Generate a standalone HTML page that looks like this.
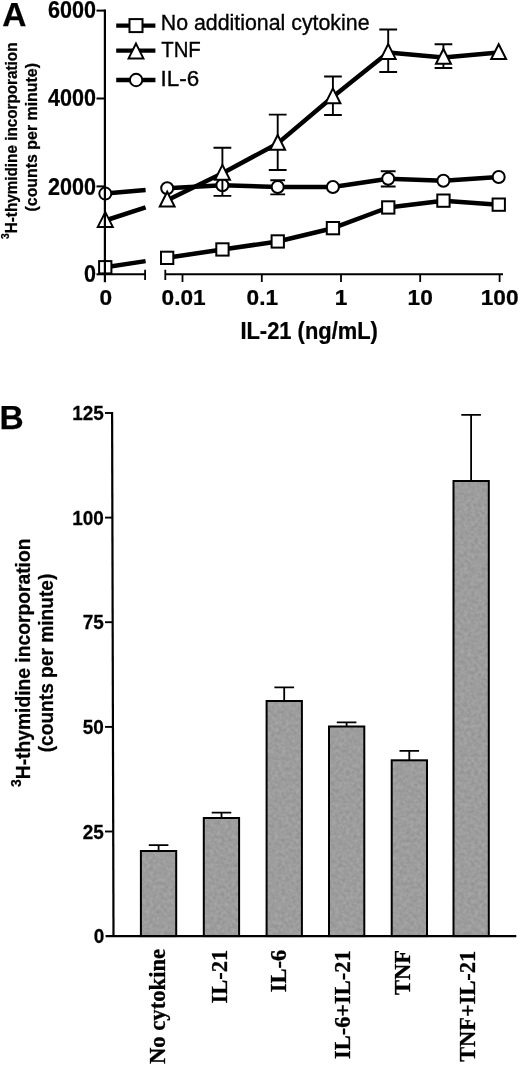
<!DOCTYPE html>
<html lang="en">
<head>
<meta charset="utf-8">
<title>Figure: IL-21 and thymidine incorporation</title>
<style>
html,body{margin:0;padding:0;background:#fff;}
body{width:520px;height:1065px;overflow:hidden;}
svg{display:block;}
text{fill:#000;}
</style>
</head>
<body>
<svg width="520" height="1065" viewBox="0 0 520 1065">
<defs>
<filter id="grain" x="0" y="0" width="100%" height="100%" color-interpolation-filters="sRGB">
<feTurbulence type="fractalNoise" baseFrequency="0.28" numOctaves="2" seed="7" result="n"/>
<feColorMatrix in="n" type="matrix" values="0.13 0 0 0 0.55  0.13 0 0 0 0.55  0.13 0 0 0 0.55  0 0 0 0 1" result="g"/>
<feComposite in="g" in2="SourceGraphic" operator="in"/>
</filter>
</defs>
<rect width="520" height="1065" fill="#fff"/>
<g id="chartA">
<text x="2.3" y="26" font-family='"Liberation Sans", sans-serif' font-size="33.5" font-weight="bold" text-anchor="start" stroke="#000" stroke-width="0.25" >A</text>
<path d="M96.5 10.6 H104.9" stroke="#000" stroke-width="2" fill="none"/>
<text transform="translate(95.9 18.2) scale(0.93 1)" font-family='"Liberation Sans", sans-serif' font-size="23.2" font-weight="bold" text-anchor="end" stroke="#000" stroke-width="0.25" >6000</text>
<path d="M96.5 98.5 H104.9" stroke="#000" stroke-width="2" fill="none"/>
<text transform="translate(95.9 106.3) scale(0.93 1)" font-family='"Liberation Sans", sans-serif' font-size="23.2" font-weight="bold" text-anchor="end" stroke="#000" stroke-width="0.25" >4000</text>
<path d="M96.5 186.4 H104.9" stroke="#000" stroke-width="2" fill="none"/>
<text transform="translate(95.9 194.5) scale(0.93 1)" font-family='"Liberation Sans", sans-serif' font-size="23.2" font-weight="bold" text-anchor="end" stroke="#000" stroke-width="0.25" >2000</text>
<path d="M96.5 274.3 H104.9" stroke="#000" stroke-width="2" fill="none"/>
<text transform="translate(95.9 282.4) scale(0.93 1)" font-family='"Liberation Sans", sans-serif' font-size="23.2" font-weight="bold" text-anchor="end" stroke="#000" stroke-width="0.25" >0</text>
<path d="M145.1 269.7 V280 M165.3 269.7 V280" stroke="#000" stroke-width="1.8" fill="none"/>
<path d="M182.5 274.3 V282" stroke="#000" stroke-width="1.8" fill="none"/>
<text transform="translate(183.6 304.8) scale(0.99 1)" font-family='"Liberation Sans", sans-serif' font-size="22.9" font-weight="bold" text-anchor="middle" stroke="#000" stroke-width="0.25" >0.01</text>
<path d="M261.8 274.3 V282" stroke="#000" stroke-width="1.8" fill="none"/>
<text transform="translate(262.3 304.8) scale(0.99 1)" font-family='"Liberation Sans", sans-serif' font-size="22.9" font-weight="bold" text-anchor="middle" stroke="#000" stroke-width="0.25" >0.1</text>
<path d="M341 274.3 V282" stroke="#000" stroke-width="1.8" fill="none"/>
<text transform="translate(341 304.8) scale(0.99 1)" font-family='"Liberation Sans", sans-serif' font-size="22.9" font-weight="bold" text-anchor="middle" stroke="#000" stroke-width="0.25" >1</text>
<path d="M420.2 274.3 V282" stroke="#000" stroke-width="1.8" fill="none"/>
<text transform="translate(420.2 304.8) scale(0.99 1)" font-family='"Liberation Sans", sans-serif' font-size="22.9" font-weight="bold" text-anchor="middle" stroke="#000" stroke-width="0.25" >10</text>
<path d="M499.6 274.3 V282" stroke="#000" stroke-width="1.8" fill="none"/>
<text transform="translate(499.6 304.8) scale(0.99 1)" font-family='"Liberation Sans", sans-serif' font-size="22.9" font-weight="bold" text-anchor="middle" stroke="#000" stroke-width="0.25" >100</text>
<text transform="translate(105.7 304.8) scale(0.99 1)" font-family='"Liberation Sans", sans-serif' font-size="22.9" font-weight="bold" text-anchor="middle" stroke="#000" stroke-width="0.25" >0</text>
<text transform="translate(240.4 338.7) scale(0.953 1)" font-family='"Liberation Sans", sans-serif' font-size="23" font-weight="bold" text-anchor="start" stroke="#000" stroke-width="0.25" >IL-21 (ng/mL)</text>
<text x="16.6" y="239" font-family='"Liberation Sans", sans-serif' font-size="15.6" font-weight="bold" text-anchor="start" textLength="196.5" lengthAdjust="spacingAndGlyphs" transform="rotate(-90 16.6 239)" stroke="#000" stroke-width="0.25" ><tspan font-size="10.5" dy="-7.2">3</tspan><tspan dy="7.2">H-thymidine incorporation</tspan></text>
<text x="37" y="211.5" font-family='"Liberation Sans", sans-serif' font-size="16" font-weight="bold" text-anchor="start" textLength="148.5" lengthAdjust="spacingAndGlyphs" transform="rotate(-90 37 211.5)" stroke="#000" stroke-width="0.25" >(counts per minute)</text>
<path d="M105.3 267.2 L145.6 261.1" fill="none" stroke="#000" stroke-width="4.5"/>
<polyline points="167.2,257.8 222.4,249.5 277.7,241.5 332.9,228.2 388.2,207.5 443.4,200.7 498.7,204.7" fill="none" stroke="#000" stroke-width="4.5" stroke-linejoin="round"/>
<rect x="99.1" y="261.1" width="12.3" height="12.3" fill="#fff" stroke="#000" stroke-width="2"/>
<rect x="161.0" y="251.7" width="12.3" height="12.3" fill="#fff" stroke="#000" stroke-width="2"/>
<rect x="216.3" y="243.3" width="12.3" height="12.3" fill="#fff" stroke="#000" stroke-width="2"/>
<rect x="271.6" y="235.3" width="12.3" height="12.3" fill="#fff" stroke="#000" stroke-width="2"/>
<rect x="326.8" y="222.0" width="12.3" height="12.3" fill="#fff" stroke="#000" stroke-width="2"/>
<rect x="382.1" y="201.3" width="12.3" height="12.3" fill="#fff" stroke="#000" stroke-width="2"/>
<rect x="437.3" y="194.5" width="12.3" height="12.3" fill="#fff" stroke="#000" stroke-width="2"/>
<rect x="492.6" y="198.5" width="12.3" height="12.3" fill="#fff" stroke="#000" stroke-width="2"/>
<path d="M105.3 193.6 L145.6 190.1" fill="none" stroke="#000" stroke-width="4.5"/>
<polyline points="167.2,188.3 222.4,185.2 277.7,187.0 332.9,187.0 388.2,178.8 443.4,180.7 498.7,177.0" fill="none" stroke="#000" stroke-width="4.5" stroke-linejoin="round"/>
<path d="M277.7 180.2 V194.4 M270.3 180.2 H285.1 M270.3 194.4 H285.1" stroke="#000" stroke-width="1.9" fill="none"/>
<path d="M388.2 171.2 V186.5 M380.8 171.2 H395.6 M380.8 186.5 H395.6" stroke="#000" stroke-width="1.9" fill="none"/>
<circle cx="105.3" cy="193.6" r="6.0" fill="#fff" stroke="#000" stroke-width="2"/>
<circle cx="167.2" cy="188.3" r="6.0" fill="#fff" stroke="#000" stroke-width="2"/>
<circle cx="222.4" cy="185.2" r="6.0" fill="#fff" stroke="#000" stroke-width="2"/>
<circle cx="277.7" cy="187.0" r="6.0" fill="#fff" stroke="#000" stroke-width="2"/>
<circle cx="332.9" cy="187.0" r="6.0" fill="#fff" stroke="#000" stroke-width="2"/>
<circle cx="388.2" cy="178.8" r="6.0" fill="#fff" stroke="#000" stroke-width="2"/>
<circle cx="443.4" cy="180.7" r="6.0" fill="#fff" stroke="#000" stroke-width="2"/>
<circle cx="498.7" cy="177.0" r="6.0" fill="#fff" stroke="#000" stroke-width="2"/>
<path d="M105.3 220.5 L145.6 207.3" fill="none" stroke="#000" stroke-width="4.5"/>
<polyline points="167.2,200.2 222.4,173.3 277.7,143.4 332.9,96.8 388.2,52.5 443.4,57.4 498.7,52.6" fill="none" stroke="#000" stroke-width="4.5" stroke-linejoin="round"/>
<path d="M222.4 147.7 V195.9 M213.5 147.7 H231.3 M213.5 195.9 H231.3" stroke="#000" stroke-width="1.9" fill="none"/>
<path d="M277.7 114.6 V170 M268.8 114.6 H286.6 M268.8 170 H286.6" stroke="#000" stroke-width="1.9" fill="none"/>
<path d="M332.9 76.5 V115 M324.1 76.5 H341.8 M324.1 115 H341.8" stroke="#000" stroke-width="1.9" fill="none"/>
<path d="M388.2 29.5 V72 M379.3 29.5 H397.1 M379.3 72 H397.1" stroke="#000" stroke-width="1.9" fill="none"/>
<path d="M443.4 44.2 V68 M434.6 44.2 H452.3 M434.6 68 H452.3" stroke="#000" stroke-width="1.9" fill="none"/>
<path d="M105.3 212.1 L112.8 226.9 H97.8 Z" fill="#fff" stroke="#000" stroke-width="2" stroke-linejoin="miter"/>
<path d="M167.2 191.8 L174.6 206.6 H159.8 Z" fill="#fff" stroke="#000" stroke-width="2" stroke-linejoin="miter"/>
<path d="M222.4 164.9 L229.9 179.7 H215.0 Z" fill="#fff" stroke="#000" stroke-width="2" stroke-linejoin="miter"/>
<path d="M277.7 135.0 L285.1 149.8 H270.2 Z" fill="#fff" stroke="#000" stroke-width="2" stroke-linejoin="miter"/>
<path d="M332.9 88.4 L340.4 103.2 H325.5 Z" fill="#fff" stroke="#000" stroke-width="2" stroke-linejoin="miter"/>
<path d="M388.2 44.1 L395.6 58.9 H380.8 Z" fill="#fff" stroke="#000" stroke-width="2" stroke-linejoin="miter"/>
<path d="M443.4 49.0 L450.9 63.8 H436.0 Z" fill="#fff" stroke="#000" stroke-width="2" stroke-linejoin="miter"/>
<path d="M498.7 44.2 L506.1 59.0 H491.2 Z" fill="#fff" stroke="#000" stroke-width="2" stroke-linejoin="miter"/>
<path d="M104.9 9.5 V282.3" stroke="#000" stroke-width="2.2" fill="none"/>
<path d="M104.9 274.3 H145.1 M165.3 274.3 H503" stroke="#000" stroke-width="2" fill="none"/>
<path d="M116.2 25.6 H155.4" stroke="#000" stroke-width="4.3" fill="none"/>
<path d="M116.2 50.6 H155.4" stroke="#000" stroke-width="4.3" fill="none"/>
<path d="M116.2 80 H155.4" stroke="#000" stroke-width="4.3" fill="none"/>
<rect x="129.5" y="19.1" width="13" height="13" fill="#fff" stroke="#000" stroke-width="2"/>
<path d="M136.0 43.6 L143.4 58.4 H128.6 Z" fill="#fff" stroke="#000" stroke-width="2" stroke-linejoin="miter"/>
<circle cx="136.1" cy="80.0" r="6.2" fill="#fff" stroke="#000" stroke-width="2"/>
<text x="160.8" y="30" font-family='"Liberation Sans", sans-serif' font-size="22" font-weight="normal" text-anchor="start" textLength="208.7" lengthAdjust="spacingAndGlyphs" stroke="#000" stroke-width="0.35">No additional cytokine</text>
<text x="161.2" y="57.3" font-family='"Liberation Sans", sans-serif' font-size="22" font-weight="normal" text-anchor="start" textLength="39.6" lengthAdjust="spacingAndGlyphs" stroke="#000" stroke-width="0.35">TNF</text>
<text x="160.6" y="86.2" font-family='"Liberation Sans", sans-serif' font-size="22" font-weight="normal" text-anchor="start" textLength="38.6" lengthAdjust="spacingAndGlyphs" stroke="#000" stroke-width="0.35">IL-6</text>
</g>
<g id="chartB">
<text x="-0.4" y="428.7" font-family='"Liberation Sans", sans-serif' font-size="33.5" font-weight="bold" text-anchor="start" stroke="#000" stroke-width="0.25" >B</text>
<path d="M158.6 851.0 V845.2 M148.8 845.2 H168.4" stroke="#000" stroke-width="1.8" fill="none"/>
<rect x="140.9" y="851.0" width="35.3" height="85.1" fill="#9d9d9d" filter="url(#grain)"/>
<rect x="140.9" y="851.0" width="35.3" height="85.1" fill="none" stroke="#000" stroke-width="2.0"/>
<text x="165.2" y="948.9" font-family='"Liberation Serif", serif' font-size="22.65" font-weight="bold" text-anchor="end" transform="rotate(-90 165.2 948.9)" stroke="#000" stroke-width="0.3">No cytokine</text>
<path d="M221.5 818.0 V812.6 M211.7 812.6 H231.3" stroke="#000" stroke-width="1.8" fill="none"/>
<rect x="203.8" y="818.0" width="35.3" height="118.1" fill="#9d9d9d" filter="url(#grain)"/>
<rect x="203.8" y="818.0" width="35.3" height="118.1" fill="none" stroke="#000" stroke-width="2.0"/>
<text x="226.7" y="949.7" font-family='"Liberation Serif", serif' font-size="22.5" font-weight="bold" text-anchor="end" transform="rotate(-90 226.7 949.7)" stroke="#000" stroke-width="0.3">IL-21</text>
<path d="M284.2 701.0 V687.4 M274.4 687.4 H294.1" stroke="#000" stroke-width="1.8" fill="none"/>
<rect x="266.6" y="701.0" width="35.3" height="235.1" fill="#9d9d9d" filter="url(#grain)"/>
<rect x="266.6" y="701.0" width="35.3" height="235.1" fill="none" stroke="#000" stroke-width="2.0"/>
<text x="286.4" y="949.7" font-family='"Liberation Serif", serif' font-size="22.5" font-weight="bold" text-anchor="end" transform="rotate(-90 286.4 949.7)" stroke="#000" stroke-width="0.3">IL-6</text>
<path d="M346.6 726.5 V722.4 M336.8 722.4 H356.4" stroke="#000" stroke-width="1.8" fill="none"/>
<rect x="329.0" y="726.5" width="35.3" height="209.6" fill="#9d9d9d" filter="url(#grain)"/>
<rect x="329.0" y="726.5" width="35.3" height="209.6" fill="none" stroke="#000" stroke-width="2.0"/>
<text x="350.5" y="950.3" font-family='"Liberation Serif", serif' font-size="22.43" font-weight="bold" text-anchor="end" transform="rotate(-90 350.5 950.3)" stroke="#000" stroke-width="0.3">IL-6+IL-21</text>
<path d="M409.3 760.3 V750.8 M399.5 750.8 H419.1" stroke="#000" stroke-width="1.8" fill="none"/>
<rect x="391.7" y="760.3" width="35.3" height="175.8" fill="#9d9d9d" filter="url(#grain)"/>
<rect x="391.7" y="760.3" width="35.3" height="175.8" fill="none" stroke="#000" stroke-width="2.0"/>
<text x="410.3" y="949.9" font-family='"Liberation Serif", serif' font-size="22.5" font-weight="bold" text-anchor="end" transform="rotate(-90 410.3 949.9)" stroke="#000" stroke-width="0.3">TNF</text>
<path d="M471.1 481.0 V414.9 M461.3 414.9 H480.9" stroke="#000" stroke-width="1.8" fill="none"/>
<rect x="453.5" y="481.0" width="35.3" height="455.1" fill="#9d9d9d" filter="url(#grain)"/>
<rect x="453.5" y="481.0" width="35.3" height="455.1" fill="none" stroke="#000" stroke-width="2.0"/>
<text x="475.4" y="950.8" font-family='"Liberation Serif", serif' font-size="22.4" font-weight="bold" text-anchor="end" transform="rotate(-90 475.4 950.8)" stroke="#000" stroke-width="0.3">TNF+IL-21</text>
<path d="M112.1 412.0 L113.5 937.1" stroke="#000" stroke-width="2.2" fill="none"/>
<path d="M105.6 936.1 H516.3" stroke="#000" stroke-width="2.1" fill="none"/>
<path d="M105 831.5 H113.2" stroke="#000" stroke-width="1.9" fill="none"/>
<text transform="translate(103.9 838.5) scale(0.935 1)" font-family='"Liberation Sans", sans-serif' font-size="20.3" font-weight="bold" text-anchor="end" stroke="#000" stroke-width="0.25" >25</text>
<path d="M105 726.9 H112.9" stroke="#000" stroke-width="1.9" fill="none"/>
<text transform="translate(103.9 733.9) scale(0.935 1)" font-family='"Liberation Sans", sans-serif' font-size="20.3" font-weight="bold" text-anchor="end" stroke="#000" stroke-width="0.25" >50</text>
<path d="M105 622.2 H112.7" stroke="#000" stroke-width="1.9" fill="none"/>
<text transform="translate(103.9 629.2) scale(0.935 1)" font-family='"Liberation Sans", sans-serif' font-size="20.3" font-weight="bold" text-anchor="end" stroke="#000" stroke-width="0.25" >75</text>
<path d="M105 517.6 H112.4" stroke="#000" stroke-width="1.9" fill="none"/>
<text transform="translate(103.9 524.6) scale(0.935 1)" font-family='"Liberation Sans", sans-serif' font-size="20.3" font-weight="bold" text-anchor="end" stroke="#000" stroke-width="0.25" >100</text>
<path d="M105 413.0 H112.1" stroke="#000" stroke-width="1.9" fill="none"/>
<text transform="translate(103.9 420.0) scale(0.935 1)" font-family='"Liberation Sans", sans-serif' font-size="20.3" font-weight="bold" text-anchor="end" stroke="#000" stroke-width="0.25" >125</text>
<text transform="translate(104.3 943.1) scale(0.935 1)" font-family='"Liberation Sans", sans-serif' font-size="20.3" font-weight="bold" text-anchor="end" stroke="#000" stroke-width="0.25" >0</text>
<text x="30.4" y="787" font-family='"Liberation Sans", sans-serif' font-size="19.4" font-weight="bold" text-anchor="start" textLength="248.5" lengthAdjust="spacingAndGlyphs" transform="rotate(-90 30.4 787)" stroke="#000" stroke-width="0.25" ><tspan font-size="14" dy="-9.7">3</tspan><tspan dy="9.7">H-thymidine incorporation</tspan></text>
<text x="53.5" y="752.3" font-family='"Liberation Sans", sans-serif' font-size="19.3" font-weight="bold" text-anchor="start" textLength="178.6" lengthAdjust="spacingAndGlyphs" transform="rotate(-90 53.5 752.3)" stroke="#000" stroke-width="0.25" >(counts per minute)</text>
</g>
</svg>
</body>
</html>
